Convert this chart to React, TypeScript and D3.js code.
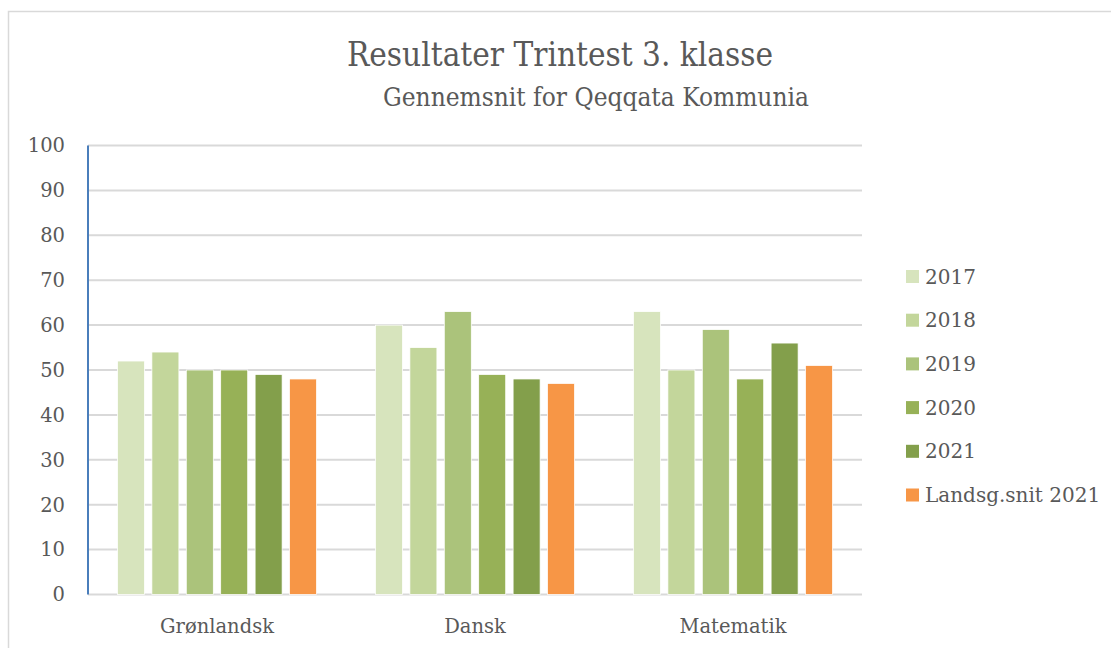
import React, { useRef, useEffect } from 'react';
import * as d3 from 'd3';

const categories = ['Grønlandsk', 'Dansk', 'Matematik'];
const seriesNames = ['2017', '2018', '2019', '2020', '2021', 'Landsg.snit 2021'];
const seriesColors = ['#d7e4bd', '#c3d69b', '#abc37b', '#97b157', '#839f4b', '#f79646'];
const values2017 = [52, 60, 63];
const values2018 = [54, 55, 50];
const values2019 = [50, 63, 59];
const values2020 = [50, 49, 48];
const values2021 = [49, 48, 56];
const valuesLandsgsnit = [48, 47, 51];
const yTicks = [0, 10, 20, 30, 40, 50, 60, 70, 80, 90, 100];
const title = 'Resultater Trintest 3. klasse';
const subtitle = 'Gennemsnit for Qeqqata Kommunia';

const allSeries = [values2017, values2018, values2019, values2020, values2021, valuesLandsgsnit];

const W = 1111;
const H = 648;

const App = () => {
  const svgRef = useRef<SVGSVGElement>(null);

  useEffect(() => {
    // --- Setup ---
    const plot = { left: 88, right: 862, top: 145.5, bottom: 594.5 };
    const font = "'DejaVu Serif', serif";
    const titleFont = "'DejaVu Serif Condensed', 'DejaVu Serif', serif";
    const textColor = '#595959';

    const svg = d3.select(svgRef.current).html('');

    // chart frame
    svg.append('rect')
      .attr('x', 8.5).attr('y', 11.5)
      .attr('width', W + 20).attr('height', H + 20)
      .attr('fill', '#fff')
      .attr('stroke', '#d9d9d9')
      .attr('stroke-width', 1.5);

    // --- Scales ---
    const y = d3.scaleLinear().domain([0, 100]).range([plot.bottom, plot.top]);
    const x0 = d3.scaleBand().domain(categories).range([plot.left, plot.right]).padding(0);
    const x1 = d3.scaleBand<number>()
      .domain(d3.range(seriesNames.length))
      .range([0, x0.bandwidth()])
      .paddingInner(0.215)
      .paddingOuter(0.857);

    // --- Gridlines ---
    svg.append('g')
      .selectAll('line')
      .data(yTicks)
      .enter()
      .append('line')
      .attr('x1', plot.left)
      .attr('x2', plot.right)
      .attr('y1', d => y(d))
      .attr('y2', d => y(d))
      .attr('stroke', '#d9d9d9')
      .attr('stroke-width', 2);

    // y tick labels
    svg.append('g')
      .selectAll('text')
      .data(yTicks)
      .enter()
      .append('text')
      .attr('x', 65)
      .attr('y', d => y(d))
      .attr('dy', '0.35em')
      .attr('text-anchor', 'end')
      .attr('font-family', font)
      .attr('font-size', 19.5)
      .attr('fill', textColor)
      .text(d => d);

    // --- Bars ---
    const groups = svg.append('g')
      .selectAll('g')
      .data(categories)
      .enter()
      .append('g')
      .attr('transform', d => `translate(${x0(d)},0)`);

    groups.selectAll('rect')
      .data((_, ci) => allSeries.map((s, si) => ({ si, v: s[ci] })))
      .enter()
      .append('rect')
      .attr('x', d => x1(d.si)!)
      .attr('width', x1.bandwidth())
      .attr('y', d => y(d.v))
      .attr('height', d => y(0) - y(d.v))
      .attr('fill', d => seriesColors[d.si])
      .attr('stroke', '#fff')
      .attr('stroke-width', 0.75);

    // y axis line (blue)
    svg.append('line')
      .attr('x1', plot.left).attr('x2', plot.left)
      .attr('y1', plot.top).attr('y2', plot.bottom)
      .attr('stroke', '#4a7ebb')
      .attr('stroke-width', 2);

    // category labels
    svg.append('g')
      .selectAll('text')
      .data(categories)
      .enter()
      .append('text')
      .attr('x', d => x0(d)! + x0.bandwidth() / 2)
      .attr('y', 633)
      .attr('text-anchor', 'middle')
      .attr('font-family', font)
      .attr('font-size', 19.5)
      .attr('fill', textColor)
      .text(d => d);

    // --- Title ---
    svg.append('text')
      .attr('x', 560).attr('y', 66)
      .attr('text-anchor', 'middle')
      .attr('font-family', titleFont)
      .attr('font-size', 33)
      .attr('fill', textColor)
      .text(title);

    svg.append('text')
      .attr('x', 596).attr('y', 106)
      .attr('text-anchor', 'middle')
      .attr('font-family', titleFont)
      .attr('font-size', 26)
      .attr('fill', textColor)
      .text(subtitle);

    // --- Legend ---
    const legend = svg.append('g')
      .selectAll('g')
      .data(seriesNames)
      .enter()
      .append('g')
      .attr('transform', (_, i) => `translate(906,${276.5 + i * 43.7})`);

    legend.append('rect')
      .attr('x', 0).attr('y', -6.5)
      .attr('width', 13).attr('height', 13)
      .attr('fill', (_, i) => seriesColors[i]);

    legend.append('text')
      .attr('x', 19).attr('y', 0)
      .attr('dy', '0.35em')
      .attr('font-family', font)
      .attr('font-size', 20)
      .attr('fill', textColor)
      .text(d => d);
  }, []);

  return (
    <svg
      ref={svgRef}
      width={W}
      height={H}
      style={{ position: 'absolute', left: 0, top: 0, display: 'block', background: '#fff' }}
    />
  );
};

export default App;
